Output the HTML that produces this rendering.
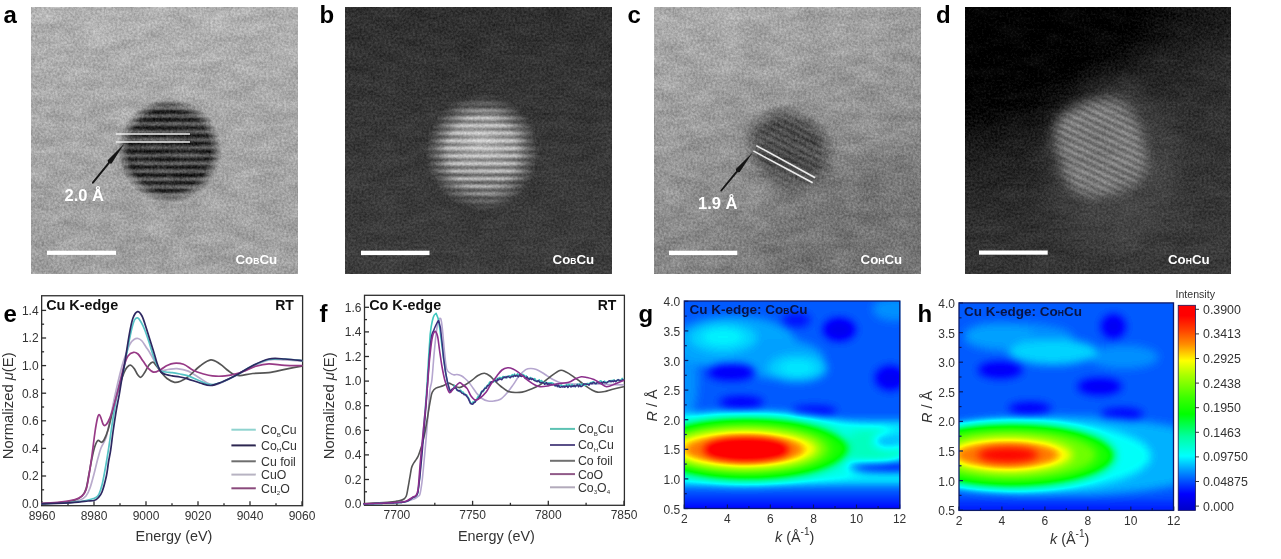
<!DOCTYPE html>
<html><head><meta charset="utf-8"><title>Figure</title>
<style>
html,body{margin:0;padding:0;background:#fff;width:1281px;height:559px;overflow:hidden}
svg{display:block}
text{font-family:"Liberation Sans",Arial,sans-serif}
</style></head><body>
<svg width="1281" height="559" viewBox="0 0 1281 559">
<defs>
<filter id="tnA" x="0" y="0" width="1" height="1" color-interpolation-filters="sRGB"><feTurbulence type="fractalNoise" baseFrequency="0.45" numOctaves="2" seed="3" result="n1"/><feColorMatrix in="n1" type="matrix" values="1 0 0 0 0  1 0 0 0 0  1 0 0 0 0  0 0 0 0 1" result="g1"/><feTurbulence type="fractalNoise" baseFrequency="0.035 0.09" numOctaves="3" seed="10" result="n2"/><feColorMatrix in="n2" type="matrix" values="1 0 0 0 0  1 0 0 0 0  1 0 0 0 0  0 0 0 0 1" result="g2"/><feComposite in="SourceGraphic" in2="g1" operator="arithmetic" k1="0" k2="1" k3="0.26" k4="-0.13" result="s1"/><feComposite in="s1" in2="g2" operator="arithmetic" k1="0" k2="1" k3="0.16" k4="-0.08"/></filter>
<filter id="tnB" x="0" y="0" width="1" height="1" color-interpolation-filters="sRGB"><feTurbulence type="fractalNoise" baseFrequency="0.45" numOctaves="2" seed="5" result="n1"/><feColorMatrix in="n1" type="matrix" values="1 0 0 0 0  1 0 0 0 0  1 0 0 0 0  0 0 0 0 1" result="g1"/><feTurbulence type="fractalNoise" baseFrequency="0.035 0.09" numOctaves="3" seed="12" result="n2"/><feColorMatrix in="n2" type="matrix" values="1 0 0 0 0  1 0 0 0 0  1 0 0 0 0  0 0 0 0 1" result="g2"/><feComposite in="SourceGraphic" in2="g1" operator="arithmetic" k1="0" k2="1" k3="0.2" k4="-0.1" result="s1"/><feComposite in="s1" in2="g2" operator="arithmetic" k1="0" k2="1" k3="0.08" k4="-0.04"/></filter>
<filter id="soft1" x="-20%" y="-20%" width="140%" height="140%"><feGaussianBlur stdDeviation="1.1"/></filter>
<filter id="soft2" x="-50%" y="-50%" width="200%" height="200%"><feGaussianBlur stdDeviation="6"/></filter>
<filter id="soft4" x="-50%" y="-50%" width="200%" height="200%"><feGaussianBlur stdDeviation="4.5"/></filter>
<filter id="soft3" x="-50%" y="-50%" width="200%" height="200%"><feGaussianBlur stdDeviation="14"/></filter>
<filter id="hg" filterUnits="userSpaceOnUse" x="-40" y="-40" width="296" height="288" color-interpolation-filters="sRGB"><feGaussianBlur stdDeviation="4.5"/><feComponentTransfer><feFuncR type="table" tableValues="0.000 0.000 0.000 0.000 0.000 0.000 0.000 0.000 0.000 0.000 0.000 0.000 0.000 0.000 0.000 0.000 0.000 0.000 0.000 0.000 0.000 0.000 0.000 0.000 0.000 0.000 0.000 0.000 0.000 0.000 0.000 0.042 0.088 0.134 0.180 0.226 0.284 0.346 0.407 0.468 0.529 0.591 0.652 0.723 0.798 0.872 0.946 1.000 1.000 1.000 1.000 1.000 1.000 1.000 1.000 1.000 1.000 1.000 1.000 1.000 1.000 1.000 1.000 1.000 1.000"/><feFuncG type="table" tableValues="0.000 0.000 0.000 0.000 0.000 0.000 0.069 0.147 0.226 0.308 0.392 0.476 0.560 0.645 0.735 0.824 0.914 1.000 1.000 1.000 1.000 1.000 1.000 1.000 1.000 1.000 1.000 1.000 1.000 1.000 1.000 1.000 1.000 1.000 1.000 1.000 1.000 1.000 1.000 1.000 1.000 1.000 1.000 1.000 1.000 1.000 1.000 0.975 0.887 0.799 0.711 0.623 0.538 0.472 0.405 0.339 0.272 0.213 0.157 0.101 0.045 0.000 0.000 0.000 0.000"/><feFuncB type="table" tableValues="0.784 0.826 0.869 0.911 0.953 0.995 1.000 1.000 1.000 1.000 1.000 1.000 1.000 1.000 1.000 1.000 1.000 0.998 0.936 0.875 0.814 0.752 0.691 0.630 0.542 0.453 0.364 0.275 0.185 0.096 0.007 0.000 0.000 0.000 0.000 0.000 0.000 0.000 0.000 0.000 0.000 0.000 0.000 0.000 0.000 0.000 0.000 0.000 0.000 0.000 0.000 0.000 0.000 0.000 0.000 0.000 0.000 0.000 0.000 0.000 0.000 0.000 0.000 0.000 0.000"/><feFuncA type="linear" slope="0" intercept="1"/></feComponentTransfer></filter>
<filter id="hh" filterUnits="userSpaceOnUse" x="-40" y="-40" width="295" height="288" color-interpolation-filters="sRGB"><feGaussianBlur stdDeviation="4.5"/><feComponentTransfer><feFuncR type="table" tableValues="0.000 0.000 0.000 0.000 0.000 0.000 0.000 0.000 0.000 0.000 0.000 0.000 0.000 0.000 0.000 0.000 0.000 0.000 0.000 0.000 0.000 0.000 0.000 0.000 0.000 0.000 0.000 0.000 0.000 0.000 0.000 0.042 0.088 0.134 0.180 0.226 0.284 0.346 0.407 0.468 0.529 0.591 0.652 0.723 0.798 0.872 0.946 1.000 1.000 1.000 1.000 1.000 1.000 1.000 1.000 1.000 1.000 1.000 1.000 1.000 1.000 1.000 1.000 1.000 1.000"/><feFuncG type="table" tableValues="0.000 0.000 0.000 0.000 0.000 0.000 0.069 0.147 0.226 0.308 0.392 0.476 0.560 0.645 0.735 0.824 0.914 1.000 1.000 1.000 1.000 1.000 1.000 1.000 1.000 1.000 1.000 1.000 1.000 1.000 1.000 1.000 1.000 1.000 1.000 1.000 1.000 1.000 1.000 1.000 1.000 1.000 1.000 1.000 1.000 1.000 1.000 0.975 0.887 0.799 0.711 0.623 0.538 0.472 0.405 0.339 0.272 0.213 0.157 0.101 0.045 0.000 0.000 0.000 0.000"/><feFuncB type="table" tableValues="0.784 0.826 0.869 0.911 0.953 0.995 1.000 1.000 1.000 1.000 1.000 1.000 1.000 1.000 1.000 1.000 1.000 0.998 0.936 0.875 0.814 0.752 0.691 0.630 0.542 0.453 0.364 0.275 0.185 0.096 0.007 0.000 0.000 0.000 0.000 0.000 0.000 0.000 0.000 0.000 0.000 0.000 0.000 0.000 0.000 0.000 0.000 0.000 0.000 0.000 0.000 0.000 0.000 0.000 0.000 0.000 0.000 0.000 0.000 0.000 0.000 0.000 0.000 0.000 0.000"/><feFuncA type="linear" slope="0" intercept="1"/></feComponentTransfer></filter>
<radialGradient id="pmask" cx="0.5" cy="0.5" r="0.5">
<stop offset="0" stop-color="#fff"/><stop offset="0.6" stop-color="#fff"/><stop offset="1" stop-color="#000"/></radialGradient>
<radialGradient id="pmaskA" cx="0.5" cy="0.5" r="0.5"><stop offset="0" stop-color="#fff"/><stop offset="0.78" stop-color="#fff"/><stop offset="1" stop-color="#000"/></radialGradient>
<mask id="mA" maskUnits="userSpaceOnUse" x="0" y="0" width="1281" height="300"><ellipse cx="169.5" cy="150.5" rx="52" ry="52.5" fill="url(#pmaskA)"/></mask>
<mask id="mB" maskUnits="userSpaceOnUse" x="0" y="0" width="1281" height="300"><ellipse cx="482" cy="152" rx="57" ry="58" fill="url(#pmask)"/></mask>
<mask id="mC" maskUnits="userSpaceOnUse" x="0" y="0" width="1281" height="300"><ellipse cx="790" cy="149" rx="50" ry="42" transform="rotate(38 790 149)" fill="url(#pmask)"/></mask>
<mask id="mD" maskUnits="userSpaceOnUse" x="0" y="0" width="1281" height="300"><rect x="1058" y="101" width="86" height="94" rx="32" transform="rotate(-16 1101 148)" fill="#fff" filter="url(#soft2)"/></mask>
<pattern id="stA" patternUnits="userSpaceOnUse" x="0" y="102" width="300" height="7.9"><rect width="300" height="4.2" fill="#161616"/></pattern>
<pattern id="stB" patternUnits="userSpaceOnUse" x="0" y="101" width="300" height="7.6"><rect width="300" height="3.6" fill="#c4c4c4"/></pattern>
<pattern id="stC" patternUnits="userSpaceOnUse" width="300" height="6.4" patternTransform="rotate(27)"><rect width="300" height="3" fill="#303030"/></pattern>
<pattern id="stD" patternUnits="userSpaceOnUse" width="300" height="6.6" patternTransform="rotate(25)"><rect width="300" height="3" fill="#b0b0b0"/></pattern>
<clipPath id="cA"><rect x="31" y="7" width="267" height="267"/></clipPath>
<clipPath id="cB"><rect x="345" y="7" width="267" height="267"/></clipPath>
<clipPath id="cC"><rect x="654" y="7" width="267" height="267"/></clipPath>
<clipPath id="cD"><rect x="965" y="7" width="266" height="267"/></clipPath>
<linearGradient id="gA" x1="0" y1="0" x2="0" y2="1"><stop offset="0" stop-color="#b2b2b2"/><stop offset="0.5" stop-color="#a6a6a6"/><stop offset="1" stop-color="#a0a0a0"/></linearGradient>
<linearGradient id="gC" x1="0.2" y1="0" x2="0.6" y2="1"><stop offset="0" stop-color="#acacac"/><stop offset="0.35" stop-color="#9c9c9c"/><stop offset="0.7" stop-color="#8a8a8a"/><stop offset="1" stop-color="#7e7e7e"/></linearGradient>
<radialGradient id="gD" gradientUnits="userSpaceOnUse" cx="975" cy="15" r="300" gradientTransform="translate(975 15) scale(1.25 1) translate(-975 -15)"><stop offset="0" stop-color="#020202"/><stop offset="0.25" stop-color="#080808"/><stop offset="0.45" stop-color="#1e1e1e"/><stop offset="0.7" stop-color="#303030"/><stop offset="1" stop-color="#3a3a3a"/></radialGradient>
<radialGradient id="rgB" cx="0.5" cy="0.5" r="0.5"><stop offset="0" stop-color="#ffffff" stop-opacity="0.42"/><stop offset="1" stop-color="#ffffff" stop-opacity="0"/></radialGradient>
<linearGradient id="gB" x1="0" y1="0" x2="0" y2="1"><stop offset="0" stop-color="#303030"/><stop offset="0.5" stop-color="#383838"/><stop offset="1" stop-color="#3d3d3d"/></linearGradient>
<clipPath id="cHg"><rect x="684" y="301" width="216" height="208"/></clipPath>

</defs>
<g font-weight="bold" font-size="24" fill="#000">
<text x="3.5" y="23">a</text>
<text x="319.5" y="23">b</text>
<text x="627.5" y="23">c</text>
<text x="936" y="23">d</text>
<text x="3.5" y="321.5">e</text>
<text x="319.5" y="321.5">f</text>
<text x="638.5" y="321.5">g</text>
<text x="917.5" y="321.5">h</text>
</g>
<g clip-path="url(#cA)"><g filter="url(#tnA)">
<rect x="31" y="7" width="267" height="267" fill="url(#gA)"/>
<g mask="url(#mA)"><rect x="100" y="90" width="140" height="125" fill="#6e6e6e"/><rect x="100" y="90" width="140" height="125" fill="url(#stA)" filter="url(#soft1)"/></g>
</g></g>
<g stroke="#ececec" stroke-width="1.7"><line x1="116" y1="134" x2="190" y2="134"/><line x1="116" y1="142" x2="190" y2="142"/></g>
<line x1="92.9" y1="182.7" x2="108.1" y2="163.8" stroke="#151515" stroke-width="1.9" stroke-linecap="round"/><path d="M124.2 143.8 L111.6 163.4 L108.1 163.8 L107.7 160.3 Z" fill="#151515"/>
<text x="64.5" y="201.3" font-size="16.5" font-weight="bold" fill="#fff">2.0 Å</text>
<rect x="47" y="250.7" width="69" height="4.2" fill="#fff"/>
<text x="235.5" y="263.7" font-size="13.3" font-weight="bold" fill="#fff">Co<tspan font-size="8.5">B</tspan>Cu</text>
<g clip-path="url(#cB)"><g filter="url(#tnB)">
<rect x="345" y="7" width="267" height="267" fill="url(#gB)"/>
<g mask="url(#mB)"><rect x="420" y="90" width="130" height="125" fill="#5c5c5c"/><rect x="420" y="90" width="130" height="125" fill="url(#stB)" filter="url(#soft1)"/><ellipse cx="482" cy="142" rx="50" ry="38" fill="url(#rgB)"/></g>
</g></g>
<rect x="361" y="250.7" width="68.5" height="4.4" fill="#fff"/>
<text x="552.6" y="263.7" font-size="13.3" font-weight="bold" fill="#fff">Co<tspan font-size="8.5">B</tspan>Cu</text>
<g clip-path="url(#cC)"><g filter="url(#tnA)">
<rect x="654" y="7" width="267" height="267" fill="url(#gC)"/>
<ellipse cx="860" cy="230" rx="120" ry="70" transform="rotate(-20 860 230)" fill="#5a5a5a" opacity="0.3" filter="url(#soft3)"/>
<ellipse cx="790" cy="155" rx="60" ry="40" transform="rotate(35 790 155)" fill="#5a5a5a" opacity="0.2" filter="url(#soft3)"/>
<g mask="url(#mC)"><rect x="720" y="85" width="140" height="130" fill="#606060"/><rect x="720" y="85" width="140" height="130" fill="url(#stC)" filter="url(#soft1)" opacity="0.8"/></g>
</g></g>
<g stroke="#ececec" stroke-width="1.6"><line x1="756.3" y1="145.6" x2="815.2" y2="177.7"/><line x1="753.3" y1="150.9" x2="812.7" y2="182.7"/></g>
<line x1="721.3" y1="190.5" x2="736.2" y2="172.4" stroke="#151515" stroke-width="1.9" stroke-linecap="round"/><path d="M752.6 152.6 L739.8 172.1 L736.2 172.4 L735.9 168.9 Z" fill="#151515"/>
<text x="698" y="209.1" font-size="16.5" font-weight="bold" fill="#fff">1.9 Å</text>
<rect x="669" y="250.7" width="68.3" height="4.4" fill="#fff"/>
<text x="860.6" y="263.7" font-size="13.3" font-weight="bold" fill="#fff">Co<tspan font-size="8.5">H</tspan>Cu</text>
<g clip-path="url(#cD)"><g filter="url(#tnB)">
<rect x="965" y="7" width="266" height="267" fill="url(#gD)"/>
<ellipse cx="1020" cy="45" rx="150" ry="65" transform="rotate(-22 1020 45)" fill="#000" opacity="0.75" filter="url(#soft3)"/>
<ellipse cx="1170" cy="10" rx="90" ry="35" fill="#000" opacity="0.45" filter="url(#soft3)"/>
<ellipse cx="1115" cy="165" rx="70" ry="85" fill="#5a5a5a" opacity="0.45" filter="url(#soft3)"/>
<g mask="url(#mD)"><rect x="1030" y="85" width="140" height="130" fill="#626262"/><rect x="1030" y="85" width="140" height="130" fill="url(#stD)" filter="url(#soft1)" opacity="0.65"/></g>
</g></g>
<rect x="979" y="250.5" width="68.7" height="4.2" fill="#fff"/>
<text x="1168" y="263.7" font-size="13.3" font-weight="bold" fill="#fff">Co<tspan font-size="8.5">H</tspan>Cu</text>
<g stroke="#2e2e2e" stroke-width="1.3" fill="none"><rect x="41.65" y="295.75" width="260.95" height="209.95"/><line x1="42.0" y1="505.7" x2="42.0" y2="501.2"/><line x1="94.0" y1="505.7" x2="94.0" y2="501.2"/><line x1="146.0" y1="505.7" x2="146.0" y2="501.2"/><line x1="198.0" y1="505.7" x2="198.0" y2="501.2"/><line x1="250.0" y1="505.7" x2="250.0" y2="501.2"/><line x1="302.0" y1="505.7" x2="302.0" y2="501.2"/><line x1="68.0" y1="505.7" x2="68.0" y2="503.2"/><line x1="120.0" y1="505.7" x2="120.0" y2="503.2"/><line x1="172.0" y1="505.7" x2="172.0" y2="503.2"/><line x1="224.0" y1="505.7" x2="224.0" y2="503.2"/><line x1="276.0" y1="505.7" x2="276.0" y2="503.2"/><line x1="41.6" y1="503.6" x2="46.1" y2="503.6"/><line x1="41.6" y1="476.0" x2="46.1" y2="476.0"/><line x1="41.6" y1="448.4" x2="46.1" y2="448.4"/><line x1="41.6" y1="420.8" x2="46.1" y2="420.8"/><line x1="41.6" y1="393.2" x2="46.1" y2="393.2"/><line x1="41.6" y1="365.6" x2="46.1" y2="365.6"/><line x1="41.6" y1="338.0" x2="46.1" y2="338.0"/><line x1="41.6" y1="310.4" x2="46.1" y2="310.4"/><line x1="41.6" y1="489.8" x2="44.1" y2="489.8"/><line x1="41.6" y1="462.2" x2="44.1" y2="462.2"/><line x1="41.6" y1="434.6" x2="44.1" y2="434.6"/><line x1="41.6" y1="407.0" x2="44.1" y2="407.0"/><line x1="41.6" y1="379.4" x2="44.1" y2="379.4"/><line x1="41.6" y1="351.8" x2="44.1" y2="351.8"/><line x1="41.6" y1="324.2" x2="44.1" y2="324.2"/></g><g font-size="12" fill="#333" text-anchor="middle"><text x="42.0" y="519.7">8960</text><text x="94.0" y="519.7">8980</text><text x="146.0" y="519.7">9000</text><text x="198.0" y="519.7">9020</text><text x="250.0" y="519.7">9040</text><text x="302.0" y="519.7">9060</text></g><g font-size="12" fill="#333" text-anchor="end"><text x="38.6" y="507.9">0.0</text><text x="38.6" y="480.3">0.2</text><text x="38.6" y="452.7">0.4</text><text x="38.6" y="425.1">0.6</text><text x="38.6" y="397.5">0.8</text><text x="38.6" y="369.9">1.0</text><text x="38.6" y="342.3">1.2</text><text x="38.6" y="314.7">1.4</text></g>
<g>
<path d="M42.0 503.5C46.7 503.2 63.7 502.6 70.0 502.0C76.3 501.4 77.3 501.0 80.0 500.0C82.7 499.0 84.3 498.0 86.0 496.0C87.7 494.0 88.7 491.7 90.0 488.0C91.3 484.3 92.7 479.0 94.0 474.0C95.3 469.0 96.8 462.3 98.0 458.0C99.2 453.7 99.8 450.9 101.0 448.0C102.2 445.1 103.9 442.8 104.9 440.5C105.9 438.2 106.2 437.4 107.0 434.0C107.8 430.6 108.8 425.7 110.0 420.0C111.2 414.3 112.7 406.3 114.0 400.0C115.3 393.7 116.7 387.7 118.0 382.0C119.3 376.3 120.7 370.7 122.0 366.0C123.3 361.3 124.7 357.7 126.0 354.0C127.3 350.3 128.7 346.4 130.0 344.0C131.3 341.6 132.7 340.4 134.0 339.5C135.3 338.6 136.8 338.2 138.1 338.5C139.4 338.8 140.7 339.6 142.0 341.0C143.3 342.4 144.7 345.1 146.0 347.0C147.3 348.9 148.2 350.0 149.7 352.5C151.2 355.0 153.1 359.1 155.0 362.0C156.9 364.9 158.7 368.9 160.9 370.2C163.1 371.4 165.3 369.8 168.0 369.5C170.7 369.2 173.6 368.3 177.0 368.6C180.4 368.9 184.8 369.7 188.3 371.1C191.8 372.5 194.5 374.9 198.0 377.0C201.5 379.1 206.2 382.6 209.2 383.9C212.1 385.2 213.1 385.2 215.7 384.7C218.3 384.2 221.5 382.6 225.0 381.0C228.5 379.4 232.1 377.4 236.6 375.1C241.1 372.8 246.6 369.6 252.0 367.0C257.4 364.4 263.3 361.0 268.8 359.8C274.3 358.6 279.5 359.8 285.0 360.0C290.5 360.2 299.0 360.8 301.8 360.9" fill="none" stroke="#b9abcc" stroke-width="1.7" stroke-linejoin="round" stroke-linecap="round"/>
<path d="M42.0 503.5C45.0 503.3 54.5 503.1 60.0 502.5C65.5 501.9 71.3 501.1 75.0 500.0C78.7 498.9 80.2 497.8 82.0 496.0C83.8 494.2 84.8 492.7 86.0 489.0C87.2 485.3 88.0 479.2 89.0 474.0C90.0 468.8 91.0 462.7 92.0 458.0C93.0 453.3 94.0 448.9 95.0 446.0C96.0 443.1 96.8 441.1 97.9 440.5C99.0 439.9 100.4 442.4 101.4 442.3C102.4 442.2 102.9 442.1 104.0 440.0C105.1 437.9 106.5 435.0 108.0 430.0C109.5 425.0 111.3 416.5 113.0 410.0C114.7 403.5 116.5 396.3 118.0 391.0C119.5 385.7 120.8 381.6 122.0 378.0C123.2 374.4 124.3 371.6 125.5 369.5C126.7 367.4 128.0 366.1 129.0 365.5C130.0 364.9 130.6 365.0 131.5 365.6C132.4 366.2 133.5 367.5 134.5 369.0C135.5 370.5 136.4 373.1 137.5 374.5C138.6 375.9 139.6 377.7 140.8 377.3C142.1 376.9 143.6 374.1 145.0 372.0C146.4 369.9 147.7 366.6 149.0 365.0C150.3 363.4 151.7 362.0 152.9 362.2C154.2 362.4 155.2 364.4 156.5 366.0C157.8 367.6 159.2 369.8 160.9 371.9C162.7 374.0 164.7 376.8 167.0 378.5C169.3 380.2 172.3 381.9 174.6 382.3C176.9 382.7 178.7 381.9 181.0 381.0C183.3 380.1 185.1 379.2 188.3 376.7C191.5 374.2 196.2 368.8 200.0 366.0C203.8 363.2 207.5 360.1 210.8 359.8C214.1 359.5 217.1 362.2 220.0 364.0C222.9 365.8 225.8 368.8 228.0 370.5C230.2 372.2 231.4 373.4 233.4 374.3C235.4 375.2 236.6 375.7 239.8 375.6C243.0 375.5 247.9 374.0 252.7 373.5C257.5 373.0 263.4 373.4 268.8 372.7C274.2 372.0 279.4 370.5 284.9 369.4C290.4 368.3 299.0 366.7 301.8 366.2" fill="none" stroke="#555555" stroke-width="1.7" stroke-linejoin="round" stroke-linecap="round"/>
<path d="M42.0 503.8C46.7 503.6 63.7 502.9 70.0 502.5C76.3 502.1 77.0 501.9 80.0 501.5C83.0 501.1 85.8 500.5 88.0 500.0C90.2 499.5 92.0 498.9 93.3 498.5C94.6 498.1 95.0 498.2 96.0 497.5C97.0 496.8 98.0 496.1 99.0 494.0C100.0 491.9 101.0 489.0 102.0 485.0C103.0 481.0 103.9 475.9 105.0 470.0C106.1 464.1 107.4 456.1 108.4 449.8C109.4 443.5 110.1 438.3 111.0 432.0C111.9 425.7 113.0 418.2 114.0 412.0C115.0 405.8 116.0 400.0 117.0 395.0C118.0 390.0 118.9 386.2 120.0 382.0C121.1 377.8 122.4 375.0 123.6 370.0C124.8 365.0 125.8 358.3 127.0 352.0C128.2 345.7 129.8 337.3 131.0 332.0C132.2 326.7 133.4 322.4 134.5 320.0C135.6 317.6 136.5 317.6 137.6 317.9C138.7 318.2 139.8 320.0 141.0 322.0C142.2 324.0 143.5 326.7 144.8 330.0C146.1 333.3 147.6 337.8 149.0 342.0C150.4 346.2 151.7 351.2 153.0 355.0C154.3 358.8 155.7 362.3 157.0 365.0C158.3 367.7 159.4 369.8 160.9 371.0C162.4 372.2 164.1 371.7 166.0 372.0C167.9 372.3 169.9 372.4 172.2 372.7C174.5 373.0 177.3 373.5 180.0 374.0C182.7 374.5 185.0 374.7 188.3 375.9C191.6 377.1 196.2 379.5 200.0 381.0C203.8 382.5 207.1 384.5 210.8 384.7C214.5 384.9 217.7 383.6 222.0 382.0C226.3 380.4 231.6 377.8 236.6 375.1C241.6 372.4 246.6 368.6 252.0 366.0C257.4 363.4 263.3 360.7 268.8 359.5C274.3 358.3 279.5 358.8 285.0 359.0C290.5 359.2 299.0 360.3 301.8 360.6" fill="none" stroke="#55c3c6" stroke-width="1.7" stroke-linejoin="round" stroke-linecap="round"/>
<path d="M42.0 503.3C45.0 503.1 54.5 502.8 60.0 502.2C65.5 501.6 71.3 500.5 75.0 499.5C78.7 498.5 80.2 497.6 82.0 496.0C83.8 494.4 84.8 493.5 86.0 490.0C87.2 486.5 88.0 480.8 89.0 475.0C90.0 469.2 91.0 462.2 92.0 455.0C93.0 447.8 94.1 438.2 95.0 432.0C95.9 425.8 96.8 420.9 97.5 418.0C98.2 415.1 98.6 414.5 99.2 414.5C99.8 414.5 100.4 416.4 101.0 418.0C101.6 419.6 102.3 422.8 103.0 424.0C103.7 425.2 104.2 425.8 105.0 425.5C105.8 425.2 106.8 424.2 108.0 422.0C109.2 419.8 110.7 416.0 112.0 412.0C113.3 408.0 114.7 403.0 116.0 398.0C117.3 393.0 118.7 387.3 120.0 382.0C121.3 376.7 122.7 370.3 124.0 366.0C125.3 361.7 126.4 358.3 128.0 356.0C129.6 353.7 131.8 352.6 133.5 352.3C135.2 352.0 136.4 352.6 138.0 354.0C139.6 355.4 141.3 358.7 143.0 361.0C144.7 363.3 146.2 366.1 148.0 368.0C149.8 369.9 151.5 372.0 153.7 372.2C155.8 372.4 158.7 370.5 160.9 369.4C163.1 368.3 164.8 366.5 167.0 365.5C169.2 364.5 171.1 363.5 173.8 363.3C176.6 363.1 180.3 363.2 183.5 364.3C186.7 365.4 190.0 368.7 193.1 370.2C196.2 371.7 198.8 372.6 202.0 373.5C205.2 374.4 208.5 375.5 212.4 375.9C216.3 376.3 220.7 376.4 225.3 375.9C229.9 375.4 234.7 374.3 239.8 372.7C244.9 371.1 251.1 367.7 255.9 366.2C260.7 364.7 264.0 363.9 268.8 363.8C273.6 363.7 279.4 365.1 284.9 365.4C290.4 365.7 299.0 365.6 301.8 365.7" fill="none" stroke="#973a86" stroke-width="1.7" stroke-linejoin="round" stroke-linecap="round"/>
<path d="M42.0 503.8C46.7 503.6 63.7 503.1 70.0 502.8C76.3 502.5 77.0 502.3 80.0 502.0C83.0 501.7 85.7 501.2 88.0 501.0C90.3 500.8 92.3 501.0 94.0 500.5C95.7 500.0 96.7 499.4 98.0 498.0C99.3 496.6 100.6 495.7 102.0 492.0C103.4 488.3 105.3 481.0 106.4 476.0C107.5 471.0 107.8 466.4 108.5 462.0C109.2 457.6 110.0 454.8 110.7 449.8C111.5 444.8 112.1 438.3 113.0 432.0C113.9 425.7 115.0 418.3 116.0 412.0C117.0 405.7 118.3 400.0 119.3 394.3C120.3 388.6 121.0 383.5 122.0 378.0C123.0 372.5 123.8 368.7 125.0 361.4C126.2 354.1 128.0 341.5 129.3 334.3C130.6 327.1 131.6 321.8 133.0 318.0C134.4 314.2 136.1 311.9 137.6 311.6C139.1 311.3 140.5 313.2 142.0 316.0C143.5 318.8 145.1 324.6 146.4 328.6C147.7 332.6 148.8 336.2 150.0 340.0C151.2 343.8 152.4 347.6 153.6 351.4C154.8 355.2 155.8 359.6 157.0 363.0C158.2 366.4 159.4 370.0 160.9 371.9C162.4 373.8 164.1 373.8 166.0 374.5C167.9 375.2 169.9 375.5 172.2 375.9C174.5 376.3 177.3 376.5 180.0 377.0C182.7 377.5 185.0 378.1 188.3 379.1C191.6 380.1 196.2 381.9 200.0 383.0C203.8 384.1 207.1 385.7 210.8 385.5C214.5 385.3 217.7 383.7 222.0 382.0C226.3 380.3 231.6 377.8 236.6 375.1C241.6 372.4 246.6 368.7 252.0 366.0C257.4 363.3 263.3 360.2 268.8 359.0C274.3 357.8 279.5 358.7 285.0 359.0C290.5 359.3 299.0 360.3 301.8 360.6" fill="none" stroke="#2d2760" stroke-width="1.7" stroke-linejoin="round" stroke-linecap="round"/>
</g>
<text x="46.2" y="310.3" font-size="14.4" font-weight="bold" fill="#111">Cu K-edge</text>
<text x="293.8" y="310.3" font-size="14" font-weight="bold" fill="#111" text-anchor="end">RT</text>
<line x1="231.4" y1="429.7" x2="255.8" y2="429.7" stroke="#8fd3cf" stroke-width="2"/>
<text x="261" y="434.1" font-size="12.3" fill="#333">Co<tspan font-size="6.2" dy="2.5">B</tspan><tspan dy="-2.5">Cu</tspan></text>
<line x1="231.4" y1="445.4" x2="255.8" y2="445.4" stroke="#2c2650" stroke-width="2"/>
<text x="261" y="449.8" font-size="12.3" fill="#333">Co<tspan font-size="6.2" dy="2.5">H</tspan><tspan dy="-2.5">Cu</tspan></text>
<line x1="231.4" y1="461.3" x2="255.8" y2="461.3" stroke="#6e6e6e" stroke-width="2"/>
<text x="261" y="465.7" font-size="12.3" fill="#333">Cu foil</text>
<line x1="231.4" y1="474.6" x2="255.8" y2="474.6" stroke="#b7b3c2" stroke-width="2"/>
<text x="261" y="479.0" font-size="12.3" fill="#333">CuO</text>
<line x1="231.4" y1="488.3" x2="255.8" y2="488.3" stroke="#8a4a7c" stroke-width="2"/>
<text x="261" y="492.7" font-size="12.3" fill="#333">Cu<tspan font-size="6.2" dy="2.5">2</tspan><tspan dy="-2.5">O</tspan></text>
<text transform="translate(12.6 459.2) rotate(-90)" font-size="14.8" fill="#333">Normalized <tspan font-style="italic">μ</tspan>(E)</text>
<text x="174" y="541" font-size="14.4" fill="#333" text-anchor="middle">Energy (eV)</text>
<g stroke="#2e2e2e" stroke-width="1.3" fill="none"><rect x="364.50" y="295.30" width="259.90" height="210.00"/><line x1="396.9" y1="505.3" x2="396.9" y2="500.8"/><line x1="472.6" y1="505.3" x2="472.6" y2="500.8"/><line x1="548.3" y1="505.3" x2="548.3" y2="500.8"/><line x1="624.0" y1="505.3" x2="624.0" y2="500.8"/><line x1="434.8" y1="505.3" x2="434.8" y2="502.8"/><line x1="510.4" y1="505.3" x2="510.4" y2="502.8"/><line x1="586.1" y1="505.3" x2="586.1" y2="502.8"/><line x1="364.5" y1="504.1" x2="369.0" y2="504.1"/><line x1="364.5" y1="479.5" x2="369.0" y2="479.5"/><line x1="364.5" y1="454.9" x2="369.0" y2="454.9"/><line x1="364.5" y1="430.3" x2="369.0" y2="430.3"/><line x1="364.5" y1="405.7" x2="369.0" y2="405.7"/><line x1="364.5" y1="381.1" x2="369.0" y2="381.1"/><line x1="364.5" y1="356.5" x2="369.0" y2="356.5"/><line x1="364.5" y1="331.9" x2="369.0" y2="331.9"/><line x1="364.5" y1="307.3" x2="369.0" y2="307.3"/><line x1="364.5" y1="491.8" x2="367.0" y2="491.8"/><line x1="364.5" y1="467.2" x2="367.0" y2="467.2"/><line x1="364.5" y1="442.6" x2="367.0" y2="442.6"/><line x1="364.5" y1="418.0" x2="367.0" y2="418.0"/><line x1="364.5" y1="393.4" x2="367.0" y2="393.4"/><line x1="364.5" y1="368.8" x2="367.0" y2="368.8"/><line x1="364.5" y1="344.2" x2="367.0" y2="344.2"/><line x1="364.5" y1="319.6" x2="367.0" y2="319.6"/></g><g font-size="12" fill="#333" text-anchor="middle"><text x="396.9" y="519.3">7700</text><text x="472.6" y="519.3">7750</text><text x="548.3" y="519.3">7800</text><text x="624.0" y="519.3">7850</text></g><g font-size="12" fill="#333" text-anchor="end"><text x="361.5" y="508.4">0.0</text><text x="361.5" y="483.8">0.2</text><text x="361.5" y="459.2">0.4</text><text x="361.5" y="434.6">0.6</text><text x="361.5" y="410.0">0.8</text><text x="361.5" y="385.4">1.0</text><text x="361.5" y="360.8">1.2</text><text x="361.5" y="336.2">1.4</text><text x="361.5" y="311.6">1.6</text></g>
<path d="M364.0 504.0C369.2 503.8 388.2 503.1 395.0 502.8C401.8 502.5 402.3 502.5 405.0 502.0C407.7 501.5 409.3 500.6 411.0 500.0C412.7 499.4 413.8 499.1 415.0 498.5C416.2 497.9 417.2 497.2 418.0 496.5C418.8 495.8 419.3 496.4 420.0 494.0C420.7 491.6 421.3 487.3 422.0 482.0C422.7 476.7 423.3 469.0 424.0 462.0C424.7 455.0 425.3 447.8 426.0 440.0C426.7 432.2 427.3 423.3 428.0 415.0C428.7 406.7 429.4 395.8 430.0 390.0C430.6 384.2 431.2 385.8 431.9 380.0C432.6 374.2 433.3 362.5 434.0 355.0C434.7 347.5 435.3 340.5 436.0 335.0C436.7 329.5 437.2 324.7 438.0 322.0C438.8 319.3 439.9 317.4 440.7 318.7C441.4 320.0 441.9 324.4 442.5 330.0C443.1 335.6 443.8 345.5 444.5 352.0C445.2 358.5 445.7 365.4 446.6 368.9C447.5 372.4 448.9 372.0 450.0 373.0C451.1 374.0 452.3 374.6 453.5 374.8C454.7 375.1 455.7 374.3 457.0 374.5C458.3 374.7 460.0 375.1 461.3 375.8C462.6 376.5 463.7 377.4 465.0 378.5C466.3 379.6 467.9 381.1 469.2 382.7C470.5 384.3 471.7 386.1 473.0 388.0C474.3 389.9 475.7 392.1 477.2 393.9C478.7 395.6 480.2 397.3 482.0 398.5C483.8 399.7 486.0 400.6 488.0 401.0C490.0 401.4 491.9 401.3 494.0 401.0C496.1 400.7 498.3 400.5 500.5 399.2C502.7 397.9 504.9 395.4 507.0 393.0C509.1 390.6 511.1 387.7 513.1 384.9C515.1 382.1 516.9 378.6 519.0 376.0C521.1 373.4 523.7 370.9 525.7 369.6C527.7 368.4 529.2 368.5 531.0 368.5C532.8 368.5 534.6 368.9 536.4 369.6C538.2 370.3 540.2 371.4 542.0 372.5C543.8 373.6 545.2 374.6 547.2 375.9C549.2 377.1 551.6 378.8 554.0 380.0C556.4 381.2 558.9 382.4 561.6 383.1C564.3 383.8 567.0 383.9 570.0 384.0C573.0 384.1 574.9 384.0 579.5 384.0C584.1 384.0 592.4 383.9 597.5 384.0C602.6 384.1 605.7 384.4 610.0 384.5C614.3 384.6 621.2 384.8 623.5 384.9" fill="none" stroke="#b5a6cf" stroke-width="1.6" stroke-linejoin="round" stroke-linecap="round"/>
<path d="M364.0 503.5C368.3 503.2 384.0 502.5 390.0 502.0C396.0 501.5 397.7 501.0 400.0 500.5C402.3 500.0 402.9 499.8 404.0 499.0C405.1 498.2 405.6 497.8 406.3 496.0C407.0 494.2 407.4 491.1 408.0 488.0C408.6 484.9 409.2 481.0 409.8 477.7C410.4 474.4 410.9 470.3 411.5 468.0C412.1 465.7 412.6 464.9 413.3 463.7C414.0 462.4 414.7 461.7 415.5 460.5C416.3 459.3 417.1 458.3 417.9 456.7C418.6 455.1 419.2 453.3 420.0 451.0C420.8 448.7 421.8 446.0 422.6 442.8C423.4 439.6 424.2 435.9 425.0 432.0C425.8 428.1 426.5 423.5 427.2 419.5C427.9 415.5 428.4 411.5 429.0 408.0C429.6 404.5 430.1 401.2 430.7 398.6C431.2 396.0 431.4 393.9 432.3 392.1C433.2 390.4 434.1 389.2 435.9 388.1C437.7 387.1 441.0 386.6 443.1 385.8C445.2 385.0 446.9 383.2 448.5 383.1C450.1 383.0 451.2 384.2 453.0 385.0C454.8 385.8 457.2 387.6 459.2 387.6C461.2 387.6 462.9 386.2 465.0 385.0C467.1 383.8 469.6 382.0 471.8 380.4C474.0 378.8 475.9 376.7 478.0 375.5C480.1 374.3 482.4 373.1 484.4 373.2C486.4 373.3 488.2 374.6 490.0 376.0C491.8 377.4 493.4 379.6 495.2 381.3C497.0 383.1 498.9 384.9 501.0 386.5C503.1 388.1 505.4 390.2 507.7 391.2C510.0 392.2 512.6 392.4 515.0 392.5C517.4 392.6 519.6 392.6 522.1 392.1C524.6 391.6 527.0 390.7 530.0 389.5C533.0 388.3 536.7 387.0 540.0 384.9C543.3 382.8 546.7 379.4 550.0 377.0C553.3 374.6 557.1 371.3 559.8 370.5C562.5 369.7 563.9 371.1 566.0 372.0C568.1 372.9 570.1 374.3 572.4 375.9C574.7 377.5 577.6 379.7 580.0 381.5C582.4 383.3 584.7 385.3 586.7 386.7C588.7 388.1 590.2 389.1 592.0 390.0C593.8 390.9 595.3 391.9 597.5 392.1C599.7 392.4 602.6 391.9 605.0 391.5C607.4 391.1 608.7 390.2 611.8 389.4C614.9 388.6 621.5 387.1 623.5 386.7" fill="none" stroke="#555555" stroke-width="1.6" stroke-linejoin="round" stroke-linecap="round"/>
<path d="M364.0 504.0 L364.5 504.0 L365.2 504.0 L365.9 503.9 L366.6 503.9 L367.5 503.9 L368.4 503.8 L369.3 503.8 L370.3 503.8 L371.4 503.7 L372.4 503.7 L373.6 503.7 L374.7 503.6 L375.9 503.6 L377.1 503.5 L378.3 503.5 L379.5 503.4 L380.7 503.4 L381.9 503.4 L383.1 503.3 L384.3 503.3 L385.5 503.2 L386.6 503.2 L387.7 503.1 L388.8 503.1 L389.9 503.0 L390.9 503.0 L391.8 503.0 L392.7 502.9 L393.5 502.9 L394.3 502.8 L395.0 502.8 L396.9 502.7 L398.4 502.6 L399.7 502.5 L400.8 502.4 L401.6 502.4 L402.4 502.3 L403.0 502.2 L403.7 502.1 L404.3 502.0 L405.0 501.8 L406.4 501.4 L407.5 501.0 L408.4 500.5 L409.2 500.0 L410.0 499.5 L411.1 498.8 L412.1 498.1 L413.0 497.5 L414.0 497.1 L415.1 496.7 L416.0 496.0 L417.1 494.8 L418.0 492.0 L419.5 478.0 L421.0 460.0 L422.0 448.4 L423.0 436.0 L424.0 424.2 L425.0 412.0 L426.0 398.9 L427.0 385.0 L428.8 355.0 L430.2 334.0 L431.2 326.6 L432.3 321.0 L433.3 317.3 L434.3 315.0 L436.1 313.4 L438.0 318.0 L439.0 323.3 L440.0 330.0 L441.0 337.9 L442.0 346.0 L443.6 359.0 L445.5 372.0 L446.6 378.0 L447.6 383.3 L449.5 391.4 L450.7 391.9 L452.0 390.1 L453.2 388.9 L454.4 385.4 L455.7 387.4 L457.0 390.2 L458.2 390.2 L459.4 391.6 L460.6 390.2 L462.0 391.9 L463.1 392.1 L464.2 393.7 L465.3 394.7 L466.6 394.8 L468.0 397.3 L469.2 399.2 L470.5 402.9 L471.8 403.7 L472.9 402.0 L474.0 402.7 L475.0 400.1 L476.1 400.7 L477.2 398.2 L478.3 396.2 L479.6 396.2 L481.0 392.2 L482.0 391.0 L483.0 391.7 L484.1 390.1 L485.2 387.3 L486.2 387.9 L487.4 385.5 L488.6 384.6 L489.7 382.2 L491.0 383.1 L492.1 381.8 L493.2 382.0 L494.4 381.4 L495.6 379.4 L496.9 379.1 L497.8 378.3 L498.8 378.0 L499.8 377.5 L500.9 377.8 L501.9 378.3 L503.0 376.5 L504.0 378.0 L505.0 376.8 L506.1 376.5 L507.1 377.6 L508.2 376.5 L509.2 375.8 L510.3 376.0 L511.3 376.4 L512.3 374.6 L513.4 376.8 L514.5 374.1 L515.5 375.9 L516.6 376.0 L517.6 373.8 L518.5 375.7 L519.7 374.7 L520.8 375.4 L521.9 374.2 L522.9 374.5 L524.0 375.2 L525.1 377.5 L526.1 375.8 L527.1 377.6 L528.2 378.4 L529.3 378.8 L530.3 377.6 L531.4 378.0 L532.5 378.9 L533.6 379.9 L534.8 378.6 L536.0 380.6 L537.0 381.1 L538.1 381.6 L539.2 379.8 L540.2 382.4 L541.3 380.5 L542.5 381.5 L543.6 382.5 L544.6 383.5 L545.6 382.3 L546.6 384.0 L547.7 383.2 L548.7 382.9 L549.8 383.1 L550.9 382.9 L552.0 382.9 L553.0 383.3 L554.1 384.9 L555.2 386.0 L556.3 384.0 L557.3 384.0 L558.4 386.6 L559.5 385.6 L560.6 385.4 L561.6 385.1 L562.7 386.1 L563.8 386.7 L564.8 385.7 L565.8 385.6 L566.8 384.6 L567.9 386.7 L568.9 384.4 L570.0 385.5 L571.0 386.3 L572.1 384.4 L573.1 386.0 L574.2 386.5 L575.3 385.6 L576.4 385.9 L577.4 384.1 L578.5 384.8 L579.5 384.0 L580.6 385.7 L581.7 384.1 L582.7 384.3 L583.8 385.5 L584.8 385.0 L585.8 385.1 L586.9 383.6 L588.0 383.5 L589.0 383.9 L590.0 383.1 L591.0 382.5 L592.0 382.7 L593.0 381.8 L594.1 382.3 L595.2 383.8 L596.3 383.5 L597.5 382.5 L598.4 382.1 L599.4 381.6 L600.4 380.8 L601.4 381.2 L602.4 382.4 L603.5 382.6 L604.6 381.2 L605.6 382.2 L606.7 382.0 L607.8 381.7 L608.9 381.5 L610.0 381.7 L611.0 380.5 L612.2 381.3 L613.3 380.1 L614.5 380.5 L615.7 381.1 L616.9 380.7 L618.1 379.6 L619.2 381.1 L620.3 380.2 L621.3 380.0 L622.2 378.4 L622.9 379.7 L623.5 379.5" fill="none" stroke="#3fc6bd" stroke-width="1.6" stroke-linejoin="round" stroke-linecap="round"/>
<path d="M364.0 504.0 L364.5 504.0 L365.2 504.0 L365.9 503.9 L366.6 503.9 L367.5 503.9 L368.4 503.8 L369.3 503.8 L370.3 503.8 L371.4 503.7 L372.4 503.7 L373.6 503.7 L374.7 503.6 L375.9 503.6 L377.1 503.5 L378.3 503.5 L379.5 503.4 L380.7 503.4 L381.9 503.4 L383.1 503.3 L384.3 503.3 L385.5 503.2 L386.6 503.2 L387.7 503.1 L388.8 503.1 L389.9 503.0 L390.9 503.0 L391.8 503.0 L392.7 502.9 L393.5 502.9 L394.3 502.8 L395.0 502.8 L396.9 502.7 L398.4 502.6 L399.7 502.5 L400.8 502.4 L401.6 502.4 L402.4 502.3 L403.0 502.2 L403.7 502.1 L404.3 502.0 L405.0 501.8 L406.4 501.4 L407.5 501.0 L408.4 500.5 L409.2 500.0 L410.0 499.5 L411.1 498.8 L412.1 498.1 L413.0 497.5 L414.0 497.1 L415.1 496.7 L416.0 496.0 L417.1 494.8 L418.0 492.0 L419.8 478.0 L421.5 460.0 L422.5 448.4 L423.5 436.0 L424.5 424.2 L425.5 412.0 L426.5 398.9 L427.5 385.0 L428.5 369.5 L429.5 355.0 L430.5 343.9 L431.5 336.0 L432.5 332.7 L433.5 331.0 L434.5 328.3 L435.7 325.6 L436.7 323.5 L437.8 321.4 L438.7 320.7 L440.5 328.0 L442.0 342.0 L443.6 358.0 L445.5 372.0 L446.6 377.7 L447.6 382.4 L449.5 389.2 L450.7 391.6 L452.0 389.2 L453.2 388.7 L454.4 388.3 L455.7 387.4 L457.0 389.9 L458.2 390.9 L459.4 390.4 L460.6 391.8 L462.0 393.2 L463.1 393.4 L464.2 394.8 L465.3 394.5 L466.6 396.3 L468.0 397.9 L469.2 400.6 L470.5 403.5 L471.8 404.0 L472.9 404.2 L474.0 402.5 L475.0 402.3 L476.1 400.3 L477.2 399.5 L478.3 398.6 L479.6 396.5 L481.0 393.6 L482.0 391.6 L483.0 390.7 L484.1 389.3 L485.2 388.2 L486.2 388.2 L487.4 385.5 L488.6 385.8 L489.7 384.6 L491.0 381.8 L492.1 381.9 L493.2 381.6 L494.4 380.1 L495.6 380.6 L496.9 381.2 L497.8 379.1 L498.8 379.9 L499.8 378.6 L500.9 379.3 L501.9 379.7 L503.0 377.9 L504.0 377.2 L505.0 377.1 L506.1 377.9 L507.1 376.5 L508.2 376.4 L509.2 377.1 L510.3 377.8 L511.3 376.5 L512.3 376.3 L513.4 376.6 L514.5 375.3 L515.5 376.2 L516.6 375.2 L517.6 376.1 L518.5 376.8 L519.7 374.9 L520.8 376.2 L521.9 376.5 L522.9 375.8 L524.0 376.3 L525.1 378.2 L526.1 378.5 L527.1 376.9 L528.2 378.6 L529.3 379.5 L530.3 378.3 L531.4 379.5 L532.5 378.6 L533.6 379.7 L534.8 380.8 L536.0 381.0 L537.0 381.7 L538.1 380.5 L539.2 381.4 L540.2 382.9 L541.3 382.6 L542.5 382.6 L543.6 382.8 L544.6 384.3 L545.6 383.6 L546.6 382.6 L547.7 384.6 L548.7 383.8 L549.8 384.2 L550.9 383.9 L552.0 384.7 L553.0 384.6 L554.1 384.3 L555.2 385.8 L556.3 384.8 L557.3 386.6 L558.4 385.1 L559.5 387.0 L560.6 387.2 L561.6 386.6 L562.7 387.1 L563.8 386.1 L564.8 387.2 L565.8 386.4 L566.8 385.9 L567.9 387.5 L568.9 386.1 L570.0 386.0 L571.0 387.0 L572.1 385.9 L573.1 386.5 L574.2 385.4 L575.3 386.8 L576.4 385.4 L577.4 384.9 L578.5 386.8 L579.5 385.0 L580.6 386.5 L581.7 386.5 L582.7 385.5 L583.8 384.0 L584.8 383.9 L585.8 384.0 L586.9 384.2 L588.0 384.5 L589.0 385.2 L590.0 383.7 L591.0 383.1 L592.0 383.8 L593.0 382.8 L594.1 382.5 L595.2 383.4 L596.3 383.6 L597.5 382.0 L598.4 382.8 L599.4 383.2 L600.4 383.3 L601.4 382.3 L602.4 383.4 L603.5 381.7 L604.6 382.8 L605.6 382.8 L606.7 383.0 L607.8 382.0 L608.9 381.0 L610.0 380.8 L611.0 381.8 L612.2 380.9 L613.3 381.7 L614.5 380.4 L615.7 381.8 L616.9 380.4 L618.1 379.8 L619.2 380.1 L620.3 380.6 L621.3 380.7 L622.2 380.2 L622.9 379.6 L623.5 380.3" fill="none" stroke="#3b2f7e" stroke-width="1.5" stroke-linejoin="round" stroke-linecap="round"/>
<path d="M364.0 503.8C369.2 503.6 388.2 502.9 395.0 502.5C401.8 502.1 402.5 502.1 405.0 501.5C407.5 500.9 408.7 499.8 410.0 499.0C411.3 498.2 412.0 497.6 413.0 497.0C414.0 496.4 415.2 496.7 416.0 495.5C416.8 494.3 417.5 493.0 418.0 490.0C418.5 487.0 418.7 482.7 419.1 477.7C419.5 472.7 419.9 466.6 420.5 460.0C421.1 453.4 422.0 444.8 422.6 438.1C423.2 431.4 423.7 425.8 424.3 420.0C424.9 414.2 425.4 410.0 426.0 403.3C426.6 396.6 427.3 387.7 427.9 380.0C428.5 372.3 429.1 363.8 429.8 357.0C430.5 350.2 431.2 343.2 432.0 339.0C432.8 334.8 433.9 332.0 434.8 331.5C435.7 331.0 436.7 332.9 437.5 336.0C438.3 339.1 438.8 345.2 439.5 350.0C440.2 354.8 441.0 360.8 441.7 365.0C442.4 369.2 443.0 372.1 443.6 375.0C444.2 377.9 444.6 379.8 445.6 382.7C446.6 385.6 448.1 391.6 449.5 392.5C450.9 393.4 452.4 389.6 454.0 388.0C455.6 386.4 457.9 383.2 459.4 382.7C460.9 382.2 461.7 384.0 463.0 385.0C464.3 386.0 465.9 386.8 467.2 388.6C468.5 390.4 469.6 394.1 471.0 396.0C472.4 397.9 473.9 399.8 475.4 400.1C476.9 400.4 478.2 399.3 480.0 398.0C481.8 396.7 484.4 394.4 486.2 392.1C488.0 389.8 489.2 386.7 491.0 384.0C492.8 381.3 495.1 378.2 496.9 375.9C498.7 373.6 500.2 371.4 502.0 370.0C503.8 368.6 505.9 368.0 507.7 367.8C509.5 367.6 511.2 368.2 513.0 369.0C514.8 369.8 516.7 371.0 518.5 372.3C520.3 373.6 522.2 375.5 524.0 377.0C525.8 378.5 527.5 380.0 529.3 381.3C531.1 382.6 533.2 384.1 535.0 385.0C536.8 385.9 537.8 386.5 540.0 386.7C542.2 386.9 545.3 386.4 548.0 386.0C550.7 385.6 552.7 384.6 556.2 384.0C559.7 383.4 565.7 383.0 568.8 382.2C571.9 381.4 572.9 379.9 575.0 379.0C577.1 378.1 579.3 377.1 581.3 376.8C583.3 376.6 584.9 377.1 587.0 377.5C589.1 377.9 591.7 378.6 593.9 379.5C596.1 380.4 597.9 381.8 600.0 383.0C602.1 384.2 604.0 386.5 606.5 386.7C609.0 386.9 612.2 385.1 615.0 384.0C617.8 382.9 622.1 381.0 623.5 380.4" fill="none" stroke="#8c2f8c" stroke-width="1.6" stroke-linejoin="round" stroke-linecap="round"/>
<text x="369.2" y="310.3" font-size="14.4" font-weight="bold" fill="#111">Co K-edge</text>
<text x="616.4" y="310.3" font-size="14" font-weight="bold" fill="#111" text-anchor="end">RT</text>
<line x1="550" y1="428.9" x2="575" y2="428.9" stroke="#5cc2b3" stroke-width="2"/>
<text x="577.9" y="433.3" font-size="12.3" fill="#333">Co<tspan font-size="6.2" dy="2.5">B</tspan><tspan dy="-2.5">Cu</tspan></text>
<line x1="550" y1="445.0" x2="575" y2="445.0" stroke="#5a5088" stroke-width="2"/>
<text x="577.9" y="449.4" font-size="12.3" fill="#333">Co<tspan font-size="6.2" dy="2.5">H</tspan><tspan dy="-2.5">Cu</tspan></text>
<line x1="550" y1="460.8" x2="575" y2="460.8" stroke="#707070" stroke-width="2"/>
<text x="577.9" y="465.2" font-size="12.3" fill="#333">Co foil</text>
<line x1="550" y1="474.1" x2="575" y2="474.1" stroke="#905a88" stroke-width="2"/>
<text x="577.9" y="478.5" font-size="12.3" fill="#333">CoO</text>
<line x1="550" y1="487.3" x2="575" y2="487.3" stroke="#b2aabb" stroke-width="2"/>
<text x="577.9" y="491.7" font-size="12.3" fill="#333">Co<tspan font-size="6.2" dy="2.5">3</tspan><tspan dy="-2.5">O</tspan><tspan font-size="6.2" dy="2.5">4</tspan></text>
<text transform="translate(334 459.2) rotate(-90)" font-size="14.8" fill="#333">Normalized <tspan font-style="italic">μ</tspan>(E)</text>
<text x="496.4" y="541" font-size="14.4" fill="#333" text-anchor="middle">Energy (eV)</text>
<clipPath id="cliphg"><rect x="684.3" y="301" width="216" height="207.5"/></clipPath><g clip-path="url(#cliphg)"><g filter="url(#hg)" transform="translate(684.3 301)"><rect x="-40.0" y="-40.0" width="300.0" height="300.0" fill="#262626"/><ellipse cx="210.0" cy="8.0" rx="22.0" ry="12.0" fill="#303030"/><ellipse cx="0.0" cy="80.0" rx="14.0" ry="40.0" fill="#303030"/><ellipse cx="50.0" cy="42.0" rx="62.0" ry="27.0" fill="#343434"/><ellipse cx="95.0" cy="58.0" rx="45.0" ry="20.0" fill="#333333"/><ellipse cx="39.0" cy="37.0" rx="34.0" ry="15.0" fill="#3c3c3c"/><ellipse cx="39.0" cy="36.0" rx="20.0" ry="8.0" fill="#424242"/><ellipse cx="113.0" cy="67.0" rx="30.0" ry="14.0" fill="#3b3b3b"/><ellipse cx="113.0" cy="67.0" rx="17.0" ry="7.0" fill="#404040"/><ellipse cx="47.0" cy="71.0" rx="24.0" ry="8.0" fill="#111111"/><ellipse cx="155.0" cy="28.5" rx="16.0" ry="11.0" fill="#0f0f0f"/><ellipse cx="112.0" cy="19.0" rx="14.0" ry="7.0" fill="#171717"/><ellipse cx="206.0" cy="77.0" rx="15.0" ry="12.0" fill="#111111"/><ellipse cx="57.0" cy="101.5" rx="22.0" ry="6.0" fill="#121212"/><ellipse cx="130.0" cy="110.5" rx="22.0" ry="5.5" fill="#141414"/><rect x="-40.0" y="120.0" width="300.0" height="64.0" fill="#404040"/><ellipse cx="60.0" cy="148.0" rx="150.0" ry="37.0" fill="#4a4a4a"/><ellipse cx="190.0" cy="145.0" rx="30.0" ry="18.0" fill="#545454"/><ellipse cx="64.0" cy="148.0" rx="100.0" ry="31.0" fill="#808080"/><ellipse cx="62.0" cy="148.0" rx="84.0" ry="25.0" fill="#999999"/><ellipse cx="60.0" cy="148.0" rx="74.0" ry="19.0" fill="#bababa"/><ellipse cx="60.0" cy="148.5" rx="60.0" ry="15.0" fill="#d4d4d4"/><ellipse cx="62.0" cy="148.5" rx="42.0" ry="11.0" fill="#ffffff"/><ellipse cx="205.0" cy="140.0" rx="16.0" ry="8.0" fill="#383838"/><ellipse cx="205.0" cy="166.0" rx="42.0" ry="3.5" fill="#0a0a0a"/><rect x="-40.0" y="187.0" width="300.0" height="10.0" fill="#262626"/><rect x="-40.0" y="194.0" width="300.0" height="60.0" fill="#1f1f1f"/><rect x="-40.0" y="203.0" width="300.0" height="60.0" fill="#141414"/></g></g>
<rect x="684.3" y="301.0" width="215.5" height="207.5" fill="none" stroke="#0b1a6a" stroke-width="1.3"/>
<g stroke="#0a1a60" stroke-width="1.2"><line x1="684.3" y1="508.5" x2="688.3" y2="508.5"/><line x1="684.3" y1="493.7" x2="686.8" y2="493.7"/><line x1="684.3" y1="478.9" x2="688.3" y2="478.9"/><line x1="684.3" y1="464.1" x2="686.8" y2="464.1"/><line x1="684.3" y1="449.3" x2="688.3" y2="449.3"/><line x1="684.3" y1="434.5" x2="686.8" y2="434.5"/><line x1="684.3" y1="419.7" x2="688.3" y2="419.7"/><line x1="684.3" y1="404.9" x2="686.8" y2="404.9"/><line x1="684.3" y1="390.1" x2="688.3" y2="390.1"/><line x1="684.3" y1="375.3" x2="686.8" y2="375.3"/><line x1="684.3" y1="360.5" x2="688.3" y2="360.5"/><line x1="684.3" y1="345.7" x2="686.8" y2="345.7"/><line x1="684.3" y1="330.9" x2="688.3" y2="330.9"/><line x1="684.3" y1="316.1" x2="686.8" y2="316.1"/><line x1="684.3" y1="301.3" x2="688.3" y2="301.3"/><line x1="684.3" y1="508.5" x2="684.3" y2="504.5"/><line x1="705.8" y1="508.5" x2="705.8" y2="506.0"/><line x1="727.4" y1="508.5" x2="727.4" y2="504.5"/><line x1="748.9" y1="508.5" x2="748.9" y2="506.0"/><line x1="770.4" y1="508.5" x2="770.4" y2="504.5"/><line x1="791.9" y1="508.5" x2="791.9" y2="506.0"/><line x1="813.5" y1="508.5" x2="813.5" y2="504.5"/><line x1="835.0" y1="508.5" x2="835.0" y2="506.0"/><line x1="856.5" y1="508.5" x2="856.5" y2="504.5"/><line x1="878.1" y1="508.5" x2="878.1" y2="506.0"/><line x1="899.6" y1="508.5" x2="899.6" y2="504.5"/></g>
<g font-size="12" fill="#333" text-anchor="end"><text x="680.3" y="513.5">0.5</text><text x="680.3" y="483.9">1.0</text><text x="680.3" y="454.3">1.5</text><text x="680.3" y="424.7">2.0</text><text x="680.3" y="395.1">2.5</text><text x="680.3" y="365.5">3.0</text><text x="680.3" y="335.9">3.5</text><text x="680.3" y="306.3">4.0</text></g>
<g font-size="12" fill="#333" text-anchor="middle"><text x="684.3" y="522.8">2</text><text x="727.4" y="522.8">4</text><text x="770.4" y="522.8">6</text><text x="813.5" y="522.8">8</text><text x="856.5" y="522.8">10</text><text x="899.6" y="522.8">12</text></g>
<text x="689.5" y="314" font-size="13.5" font-weight="bold" fill="#081444">Cu K-edge: Co<tspan font-size="8.5">B</tspan>Cu</text>
<text transform="translate(656.5 421.5) rotate(-90)" font-size="14.4" fill="#333"><tspan font-style="italic">R</tspan> / Å</text>
<text x="775" y="541.7" font-size="14.4" fill="#333"><tspan font-style="italic">k</tspan> (Å<tspan font-size="10" dy="-7">-1</tspan><tspan dy="7">)</tspan></text>
<clipPath id="cliphh"><rect x="959" y="302.9" width="215" height="207.9"/></clipPath><g clip-path="url(#cliphh)"><g filter="url(#hh)" transform="translate(959 302.9)"><rect x="-40.0" y="-40.0" width="300.0" height="300.0" fill="#262626"/><ellipse cx="60.0" cy="35.0" rx="55.0" ry="15.0" fill="#303030"/><ellipse cx="40.0" cy="32.0" rx="35.0" ry="12.0" fill="#333333"/><ellipse cx="165.0" cy="54.0" rx="35.0" ry="12.0" fill="#303030"/><ellipse cx="94.0" cy="49.0" rx="45.0" ry="13.0" fill="#3c3c3c"/><ellipse cx="41.3" cy="67.0" rx="22.0" ry="8.0" fill="#111111"/><ellipse cx="154.4" cy="23.6" rx="12.0" ry="12.0" fill="#111111"/><ellipse cx="140.6" cy="83.6" rx="22.0" ry="8.0" fill="#111111"/><ellipse cx="70.8" cy="105.5" rx="21.0" ry="6.0" fill="#121212"/><ellipse cx="163.0" cy="111.5" rx="21.0" ry="6.0" fill="#121212"/><ellipse cx="100.0" cy="153.0" rx="170.0" ry="40.0" fill="#363636"/><ellipse cx="57.0" cy="153.0" rx="135.0" ry="36.0" fill="#454545"/><ellipse cx="52.0" cy="152.5" rx="104.0" ry="32.0" fill="#808080"/><ellipse cx="52.0" cy="152.0" rx="86.0" ry="25.0" fill="#999999"/><ellipse cx="50.0" cy="152.0" rx="64.0" ry="17.5" fill="#bababa"/><ellipse cx="48.0" cy="152.0" rx="52.0" ry="13.0" fill="#d4d4d4"/><ellipse cx="49.0" cy="152.0" rx="30.0" ry="7.5" fill="#f2f2f2"/><rect x="-40.0" y="192.0" width="300.0" height="10.0" fill="#242424"/><rect x="-40.0" y="200.0" width="300.0" height="60.0" fill="#1a1a1a"/></g></g>
<rect x="959.0" y="302.9" width="214.5" height="207.5" fill="none" stroke="#0b1a6a" stroke-width="1.3"/>
<g stroke="#0a1a60" stroke-width="1.2"><line x1="959.0" y1="510.2" x2="963.0" y2="510.2"/><line x1="959.0" y1="495.4" x2="961.5" y2="495.4"/><line x1="959.0" y1="480.6" x2="963.0" y2="480.6"/><line x1="959.0" y1="465.8" x2="961.5" y2="465.8"/><line x1="959.0" y1="451.0" x2="963.0" y2="451.0"/><line x1="959.0" y1="436.2" x2="961.5" y2="436.2"/><line x1="959.0" y1="421.4" x2="963.0" y2="421.4"/><line x1="959.0" y1="406.6" x2="961.5" y2="406.6"/><line x1="959.0" y1="391.8" x2="963.0" y2="391.8"/><line x1="959.0" y1="377.0" x2="961.5" y2="377.0"/><line x1="959.0" y1="362.2" x2="963.0" y2="362.2"/><line x1="959.0" y1="347.4" x2="961.5" y2="347.4"/><line x1="959.0" y1="332.6" x2="963.0" y2="332.6"/><line x1="959.0" y1="317.8" x2="961.5" y2="317.8"/><line x1="959.0" y1="303.0" x2="963.0" y2="303.0"/><line x1="959.0" y1="510.4" x2="959.0" y2="506.4"/><line x1="980.5" y1="510.4" x2="980.5" y2="507.9"/><line x1="1001.9" y1="510.4" x2="1001.9" y2="506.4"/><line x1="1023.4" y1="510.4" x2="1023.4" y2="507.9"/><line x1="1044.9" y1="510.4" x2="1044.9" y2="506.4"/><line x1="1066.3" y1="510.4" x2="1066.3" y2="507.9"/><line x1="1087.8" y1="510.4" x2="1087.8" y2="506.4"/><line x1="1109.3" y1="510.4" x2="1109.3" y2="507.9"/><line x1="1130.8" y1="510.4" x2="1130.8" y2="506.4"/><line x1="1152.2" y1="510.4" x2="1152.2" y2="507.9"/><line x1="1173.7" y1="510.4" x2="1173.7" y2="506.4"/></g>
<g font-size="12" fill="#333" text-anchor="end"><text x="955.0" y="515.2">0.5</text><text x="955.0" y="485.6">1.0</text><text x="955.0" y="456.0">1.5</text><text x="955.0" y="426.4">2.0</text><text x="955.0" y="396.8">2.5</text><text x="955.0" y="367.2">3.0</text><text x="955.0" y="337.6">3.5</text><text x="955.0" y="308.0">4.0</text></g>
<g font-size="12" fill="#333" text-anchor="middle"><text x="959.0" y="524.5">2</text><text x="1001.9" y="524.5">4</text><text x="1044.9" y="524.5">6</text><text x="1087.8" y="524.5">8</text><text x="1130.8" y="524.5">10</text><text x="1173.7" y="524.5">12</text></g>
<text x="964" y="316" font-size="13.5" font-weight="bold" fill="#081444">Cu K-edge: Co<tspan font-size="8.5">H</tspan>Cu</text>
<text transform="translate(931.5 423) rotate(-90)" font-size="14.4" fill="#333"><tspan font-style="italic">R</tspan> / Å</text>
<text x="1050" y="543.5" font-size="14.4" fill="#333"><tspan font-style="italic">k</tspan> (Å<tspan font-size="10" dy="-7">-1</tspan><tspan dy="7">)</tspan></text>
<defs><linearGradient id="cbar" x1="0" y1="1" x2="0" y2="0"><stop offset="0.000" stop-color="rgb(0,0,200)"/><stop offset="0.080" stop-color="rgb(0,0,255)"/><stop offset="0.130" stop-color="rgb(0,64,255)"/><stop offset="0.200" stop-color="rgb(0,160,255)"/><stop offset="0.265" stop-color="rgb(0,255,255)"/><stop offset="0.360" stop-color="rgb(0,255,160)"/><stop offset="0.470" stop-color="rgb(0,255,0)"/><stop offset="0.550" stop-color="rgb(60,255,0)"/><stop offset="0.660" stop-color="rgb(170,255,0)"/><stop offset="0.730" stop-color="rgb(255,255,0)"/><stop offset="0.810" stop-color="rgb(255,140,0)"/><stop offset="0.880" stop-color="rgb(255,64,0)"/><stop offset="0.950" stop-color="rgb(255,0,0)"/><stop offset="1.000" stop-color="rgb(255,0,0)"/></linearGradient></defs>
<rect x="1178.2" y="305.3" width="17.2" height="205.09999999999997" fill="url(#cbar)" stroke="#14145a" stroke-width="0.8"/>
<g stroke="#333" stroke-width="1"><line x1="1195" y1="309.3" x2="1199" y2="309.3"/><line x1="1195" y1="333.9" x2="1199" y2="333.9"/><line x1="1195" y1="358.5" x2="1199" y2="358.5"/><line x1="1195" y1="383.1" x2="1199" y2="383.1"/><line x1="1195" y1="407.7" x2="1199" y2="407.7"/><line x1="1195" y1="432.3" x2="1199" y2="432.3"/><line x1="1195" y1="456.9" x2="1199" y2="456.9"/><line x1="1195" y1="481.5" x2="1199" y2="481.5"/><line x1="1195" y1="506.1" x2="1199" y2="506.1"/></g>
<g font-size="12.4" fill="#333"><text x="1203" y="313.7">0.3900</text><text x="1203" y="338.3">0.3413</text><text x="1203" y="362.9">0.2925</text><text x="1203" y="387.5">0.2438</text><text x="1203" y="412.1">0.1950</text><text x="1203" y="436.7">0.1463</text><text x="1203" y="461.3">0.09750</text><text x="1203" y="485.9">0.04875</text><text x="1203" y="510.5">0.000</text></g>
<text x="1175.5" y="298.3" font-size="10.6" fill="#333">Intensity</text>
</svg></body></html>
